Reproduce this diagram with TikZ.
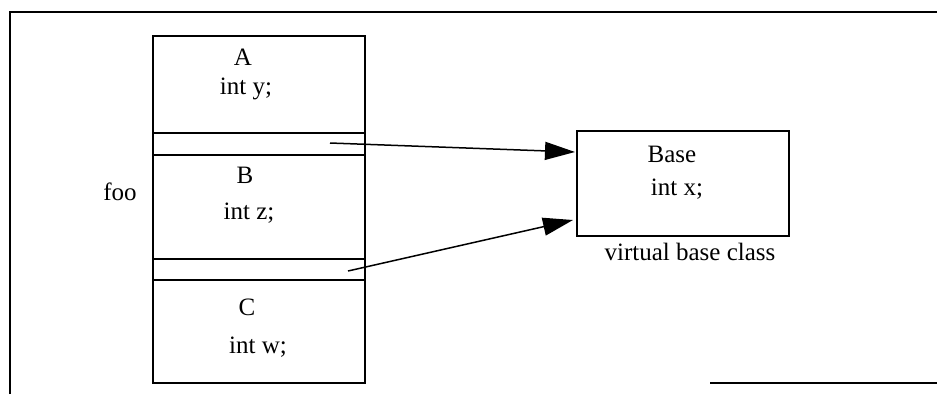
\documentclass[tikz,border=0pt]{standalone}
\usepackage{fontspec}
\setmainfont{Liberation Serif}
\usetikzlibrary{arrows.meta}

\begin{document}
\begin{tikzpicture}[x=1pt,y=-1pt,
	part/.style={draw,line width=1.5pt,minimum width=212pt,inner sep=0pt,anchor=north west},
	lbl/.style={font=\fontsize{25}{30}\selectfont,inner sep=0pt,anchor=base},
	ptr/.style={line width=1.5pt,-{Triangle[length=30pt,width=18pt]}}]
			
			\useasboundingbox (0,0) rectangle (937,394);
			
			% frame
			\draw[line width=2.6pt] (10,394) -- (10,12) -- (937,12);
			\draw[line width=2.4pt] (710,383) -- (937,383);
			
			% object foo
			\node[part,minimum height=97pt] (A) at (152,35) {};
			\node[part,minimum height=22pt] (ptrA) at (152,132) {};
			\node[part,minimum height=104pt] (B) at (152,154) {};
			\node[part,minimum height=21pt] (ptrB) at (152,258) {};
			\node[part,minimum height=103pt] (C) at (152,279) {};
			
			\node[lbl] (nA) at (243,65) {A};
			\node[lbl] (fy) at (246,94) {int y;};
			\node[lbl] (nB) at (245,183) {B};
			\node[lbl] (fz) at (249,219) {int z;};
			\node[lbl] (nC) at (247,315) {C};
			\node[lbl] (fw) at (258,353) {int w;};
			\node[lbl] (foo) at (120,200) {foo};
			
			% virtual base
			\node[part,minimum width=212pt,minimum height=105pt] (base) at (576,130) {};
			\node[lbl] (nBase) at (672,162) {Base};
			\node[lbl] (fx) at (677,195) {int x;};
			\node[lbl] (vbc) at (690,260) {virtual base class};
			
			\coordinate (sA) at (330,143);
			\coordinate (sB) at (348,271);
			\coordinate (eA) at (575,152);
			\coordinate (eB) at (573,220);
			
			\draw[ptr] (sA) -- (eA);
			\draw[ptr] (sB) -- (eB);
			
		\end{tikzpicture}
\end{document}
